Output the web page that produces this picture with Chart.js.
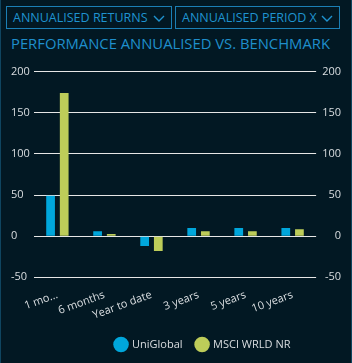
<!DOCTYPE html>
<html>
<head>
<meta charset="utf-8">
<script src="https://cdn.jsdelivr.net/npm/chart.js@4.4.1/dist/chart.umd.min.js"></script>
<style>
  html, body { margin: 0; padding: 0; }
  body { width: 352px; height: 363px; background: #021823; position: relative; overflow: hidden; font-family: "Open Sans", "DejaVu Sans", sans-serif; }
  .frame { position: absolute; left: 0; top: 0; width: 350px; height: 363px; border-left: 1px solid #0f4560; border-right: 1px solid #0f4560; }
  .dd { position: absolute; top: 6px; height: 21px; border: 1px solid #1b7fb5; color: #1f93d0; font-size: 12.5px; line-height: 21px; padding-left: 6px; box-sizing: content-box; white-space: nowrap; }
  .dd svg { position: absolute; right: 6px; top: 8px; }
  #t { position: absolute; left: 11px; top: 33px; color: #1f8fcc; font-size: 14.8px; white-space: nowrap; }
  #wrap { position: absolute; left: 0; top: 60px; width: 352px; height: 303px; }
</style>
</head>
<body>
<div class="frame"></div>
<div class="dd" style="left:6px; width:158px;">ANNUALISED RETURNS<svg width="12" height="7" viewBox="0 0 12 7"><path d="M1 1 L6 6 L11 1" stroke="#1f93d0" stroke-width="1.4" fill="none"/></svg></div>
<div class="dd" style="left:175px; width:157px;">ANNUALISED PERIOD X<svg width="12" height="7" viewBox="0 0 12 7"><path d="M1 1 L6 6 L11 1" stroke="#1f93d0" stroke-width="1.4" fill="none"/></svg></div>
<div id="t">PERFORMANCE ANNUALISED VS. BENCHMARK</div>
<div id="wrap"><canvas id="c"></canvas></div>
<script>
const categories = ["1 mo...", "6 months", "Year to date", "3 years", "5 years", "10 years"];
const uniGlobal = [49, 6, -12, 10, 10, 10];
const msciWorld = [174, 2.5, -18, 6, 6, 8.5];
const yTicks = [-50, 0, 50, 100, 150, 200];
const seriesNames = ["UniGlobal", "MSCI WRLD NR"];

const tickColor = "#d9dde0";
const fontFam = "'Open Sans', 'DejaVu Sans', sans-serif";

const legendShift = {
  id: "legendShift",
  afterLayout(chart) {
    const l = chart.legend;
    if (l) { l.left += 27; l.right += 27; }
  }
};

new Chart(document.getElementById("c"), {
  type: "bar",
  data: {
    labels: categories,
    datasets: [
      { label: seriesNames[0], data: uniGlobal, backgroundColor: "#00a6db", yAxisID: "y", categoryPercentage: 0.58, barPercentage: 0.64 },
      { label: seriesNames[1], data: msciWorld, backgroundColor: "#bdcc59", yAxisID: "y", categoryPercentage: 0.58, barPercentage: 0.64 }
    ]
  },
  plugins: [legendShift],
  options: {
    responsive: true,
    maintainAspectRatio: false,
    animation: false,
    layout: { padding: { top: 11.5, bottom: 3, left: 11, right: 11 } },
    plugins: {
      tooltip: { enabled: false },
      legend: {
        position: "bottom",
        labels: {
          color: tickColor,
          font: { family: fontFam, size: 11 },
          usePointStyle: true,
          pointStyle: "circle",
          boxWidth: 12,
          boxHeight: 12,
          padding: 14
        }
      }
    },
    scales: {
      x: {
        grid: { display: false },
        border: { display: false },
        ticks: { color: tickColor, font: { family: fontFam, size: 11 }, minRotation: 20, maxRotation: 20, autoSkip: false, padding: 3 }
      },
      y: {
        position: "left",
        min: yTicks[0], max: yTicks[yTicks.length - 1],
        afterBuildTicks: (ax) => { ax.ticks = yTicks.map(v => ({ value: v })); },
        grid: { color: "#e6e6e6", lineWidth: 1, drawTicks: false },
        border: { display: false },
        ticks: { color: tickColor, font: { family: fontFam, size: 11 }, padding: 2, crossAlign: "far" }
      },
      y2: {
        position: "right",
        min: yTicks[0], max: yTicks[yTicks.length - 1],
        afterBuildTicks: (ax) => { ax.ticks = yTicks.map(v => ({ value: v })); },
        grid: { display: false, drawTicks: false },
        border: { display: false },
        ticks: { color: tickColor, font: { family: fontFam, size: 11 }, padding: 3, crossAlign: "far" }
      }
    }
  }
});
</script>
</body>
</html>
